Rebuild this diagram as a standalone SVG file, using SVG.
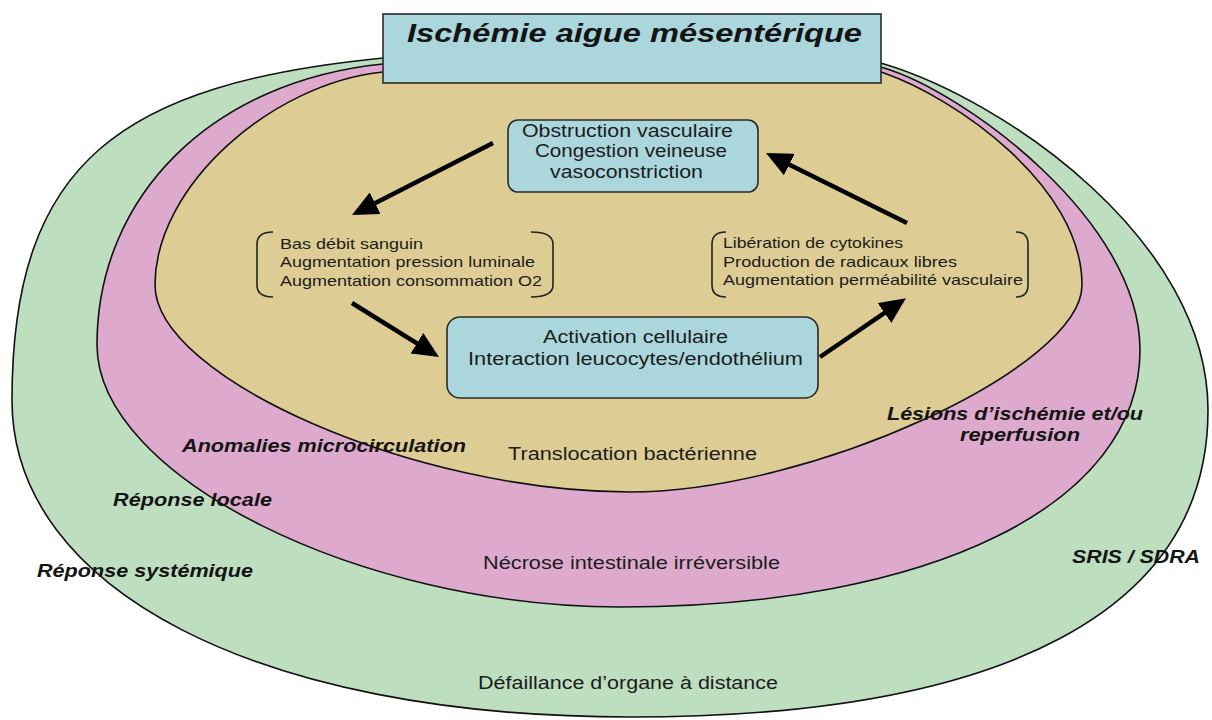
<svg xmlns="http://www.w3.org/2000/svg" width="1212" height="720" viewBox="0 0 1212 720">
<defs>
<style>
.ring{stroke:#111;stroke-width:1.6}
.box{fill:#AAD6DC;stroke:#2a2a2a;stroke-width:1.6}
.t{font-family:"Liberation Sans",Arial,sans-serif;fill:#1c1c1c}
.bi{font-family:"Liberation Sans",Arial,sans-serif;font-weight:bold;font-style:italic;fill:#141414}
.br{fill:none;stroke:#222;stroke-width:1.6}
.arr{fill:none;stroke:#000;stroke-width:4.5}
</style>
<marker id="ah" markerUnits="userSpaceOnUse" markerWidth="26" markerHeight="24" viewBox="0 0 26 24" refX="20" refY="12" orient="auto">
<path d="M0,0 L26,12 L0,24 Z" fill="#000"/>
</marker>
</defs>
<rect width="1212" height="720" fill="#fff"/>
<g id="rings">
<path id="ring-systemic" class="ring" fill="#BEDEC0" d="M12,400 C12,160 123,84 383,58 C500,46 830,48 884,64 C1004,100 1208,240 1208,410 C1208,610 1005.7,717 630,717 C258,717 12,589.6 12,400 Z"/>
<path id="ring-local" class="ring" fill="#DDAACE" d="M97,345 C97,195 213,81 383,64 C480,54 830,52 884,68 C964,92 1140,220 1140,350 C1140,504.2 932,607 620,607 C359.5,607 97,476 97,345 Z"/>
<path id="ring-micro" class="ring" fill="#DDCC93" d="M155,285 C155,185 273,83 383,72 C500,60 830,54 884,73 C954,97.5 1082,185 1082,285 C1082,367.8 810.8,492 630,492 C416.25,492 155,378.2 155,285 Z"/>
</g>
<g id="title">
<rect class="box" x="383" y="14" width="498" height="69" fill="#ABD8DD"/>
<text class="bi" x="407" y="42" font-size="26.3" textLength="455" lengthAdjust="spacingAndGlyphs">Ischémie aigue mésentérique</text>
</g>
<g id="obstruction">
<rect class="box" x="508" y="120" width="250" height="72" rx="10"/>
<text class="t" font-size="17.5" x="522" y="137" textLength="211" lengthAdjust="spacingAndGlyphs">Obstruction vasculaire</text>
<text class="t" font-size="17.5" x="535" y="157" textLength="192" lengthAdjust="spacingAndGlyphs">Congestion veineuse</text>
<text class="t" font-size="17.5" x="550" y="178" textLength="153" lengthAdjust="spacingAndGlyphs">vasoconstriction</text>
</g>
<g id="left-block">
<path class="br" d="M273,232 Q257,232 257,244 L257,285 Q257,297 273,297"/>
<path class="br" d="M531,232 Q553,232 553,244 L553,285 Q553,297 531,297"/>
<text class="t" font-size="14.5" x="280" y="249" textLength="143" lengthAdjust="spacingAndGlyphs">Bas débit sanguin</text>
<text class="t" font-size="14.5" x="280" y="267" textLength="255" lengthAdjust="spacingAndGlyphs">Augmentation pression luminale</text>
<text class="t" font-size="14.5" x="280" y="286" textLength="262" lengthAdjust="spacingAndGlyphs">Augmentation consommation O2</text>
</g>
<g id="right-block">
<path class="br" d="M726,232 Q712,232 712,244 L712,285 Q712,297 726,297"/>
<path class="br" d="M1016,232 Q1028,232 1028,244 L1028,285 Q1028,297 1016,297"/>
<text class="t" font-size="14.5" x="723" y="248" textLength="180" lengthAdjust="spacingAndGlyphs">Libération de cytokines</text>
<text class="t" font-size="14.5" x="723" y="267" textLength="234" lengthAdjust="spacingAndGlyphs">Production de radicaux libres</text>
<text class="t" font-size="14.5" x="723" y="285" textLength="300" lengthAdjust="spacingAndGlyphs">Augmentation perméabilité vasculaire</text>
</g>
<g id="activation">
<rect class="box" x="447" y="317" width="371" height="81" rx="13"/>
<text class="t" font-size="17.5" x="543" y="343" textLength="185" lengthAdjust="spacingAndGlyphs">Activation cellulaire</text>
<text class="t" font-size="17.5" x="468" y="365" textLength="335" lengthAdjust="spacingAndGlyphs">Interaction leucocytes/endothélium</text>
</g>
<g id="connectors">
<path class="arr" marker-end="url(#ah)" d="M493,143 L357.3,212.3"/>
<path class="arr" marker-end="url(#ah)" d="M352,303 L433.9,353.8"/>
<path class="arr" marker-end="url(#ah)" d="M820,357 L901,301.7"/>
<path class="arr" marker-end="url(#ah)" d="M907,223 L771.4,155.7"/>
</g>
<g id="labels">
<text class="bi" font-size="17.5" x="182" y="452" textLength="284" lengthAdjust="spacingAndGlyphs">Anomalies microcirculation</text>
<text class="t" font-size="17.5" x="508" y="460" textLength="249" lengthAdjust="spacingAndGlyphs">Translocation bactérienne</text>
<text class="bi" font-size="17.5" x="887" y="420" textLength="256" lengthAdjust="spacingAndGlyphs">Lésions d’ischémie et/ou</text>
<text class="bi" font-size="17.5" x="960" y="441" textLength="120" lengthAdjust="spacingAndGlyphs">reperfusion</text>
<text class="bi" font-size="17.5" x="113" y="506" textLength="159" lengthAdjust="spacingAndGlyphs">Réponse locale</text>
<text class="bi" font-size="17.5" x="37" y="577" textLength="216" lengthAdjust="spacingAndGlyphs">Réponse systémique</text>
<text class="t" font-size="17.5" x="483" y="569" textLength="297" lengthAdjust="spacingAndGlyphs">Nécrose intestinale irréversible</text>
<text class="bi" font-size="17.5" x="1072" y="563" textLength="128" lengthAdjust="spacingAndGlyphs">SRIS / SDRA</text>
<text class="t" font-size="17.5" x="478" y="689" textLength="300" lengthAdjust="spacingAndGlyphs">Défaillance d’organe à distance</text>
</g>
</svg>
